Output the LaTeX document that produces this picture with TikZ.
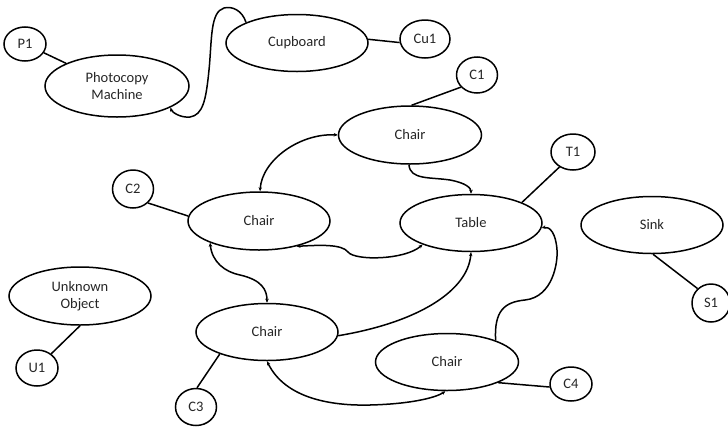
\documentclass[tikz,border=0pt]{standalone}
\usepackage{fontspec}
\setmainfont{Carlito}
\usetikzlibrary{shapes.geometric,arrows.meta}
\begin{document}
\begin{tikzpicture}[x=1pt,y=-1pt,
  obj/.style={draw, ellipse, line width=1.5pt, inner sep=0pt, align=center,
    font=\fontsize{14.5}{17}\selectfont, text=black!85},
  link/.style={line width=1.5pt},
  tip/.style={line width=1.5pt, -{Stealth[length=4pt,width=3.5pt]}},
  both/.style={line width=1.5pt, {Stealth[length=4pt,width=3.5pt]}-{Stealth[length=4pt,width=3.5pt]}}]
\useasboundingbox (0,0) rectangle (728,426);

% objects
\node[obj, minimum width=144pt, minimum height=62pt] (pm) at (117,86) {Photocopy\\Machine};
\node[obj, minimum width=142pt, minimum height=57pt] (cb) at (297,43) {Cupboard};
\node[obj, minimum width=143pt, minimum height=58pt] (ct) at (410,135) {Chair};
\node[obj, minimum width=142pt, minimum height=57pt] (tb) at (471,223) {Table};
\node[obj, minimum width=142pt, minimum height=58pt] (cm) at (259,221) {Chair};
\node[obj, minimum width=142pt, minimum height=57pt] (sk) at (652,225) {Sink};
\node[obj, minimum width=142pt, minimum height=58pt] (uo) at (80,296) {Unknown\\Object};
\node[obj, minimum width=142pt, minimum height=57pt] (cl) at (267,332) {Chair};
\node[obj, minimum width=143pt, minimum height=57pt] (cr) at (447,362) {Chair};

% labels
\node[obj, minimum width=42pt, minimum height=34pt] (p1) at (25,44) {P1};
\node[obj, minimum width=50pt, minimum height=38pt] (cu1) at (425,39) {Cu1};
\node[obj, minimum width=41pt, minimum height=36pt] (c1) at (477,75) {C1};
\node[obj, minimum width=44pt, minimum height=36pt] (t1) at (573,152) {T1};
\node[obj, minimum width=41pt, minimum height=38pt] (c2) at (133,189) {C2};
\node[obj, minimum width=38pt, minimum height=38pt] (s1) at (711,303) {S1};
\node[obj, minimum width=42pt, minimum height=36pt] (u1) at (37,368) {U1};
\node[obj, minimum width=41pt, minimum height=37pt] (c3) at (196,407) {C3};
\node[obj, minimum width=42pt, minimum height=34pt] (c4) at (571,384) {C4};

% label links
\draw[link] (p1.-25) -- (pm.156);
\draw[link] (cb.3) -- (cu1.188);
\draw[link] (c1.217) -- (ct.87);
\draw[link] (t1.228) -- (tb.22);
\draw[link] (c2.-43) -- (cm.176);
\draw[link] (sk.-88) -- (s1.133);
\draw[link] (uo.-90) -- (u1.45);
\draw[link] (cl.205) -- (c3.87);
\draw[link] (cr.-22) -- (c4.188);

% relations
\draw[tip] (cb.158) .. controls (242,10) and (232,6) .. (224,8)
  .. controls (210,12) and (212,40) .. (209,70)
  .. controls (206,100) and (203,115) .. (190,117)
  .. controls (180,118) and (172,112) .. (pm.-22);
\draw[both] (ct.west) .. controls (300,133) and (262,160) .. (cm.88);
\draw[tip] (ct.-92) .. controls (410,180) and (430,177) .. (450,180)
  .. controls (466,183) and (471,188) .. (tb.90);
\draw[both] (cm.-34) .. controls (320,245) and (342,244) .. (348,252)
  .. controls (355,261) and (405,260) .. (tb.204);
\draw[both] (cm.204) .. controls (212,262) and (225,272) .. (240,275)
  .. controls (262,280) and (267,290) .. (cl.90);
\draw[tip] (cl.-3) .. controls (420,322) and (468,290) .. (tb.-90);
\draw[tip] (cr.24) .. controls (494,310) and (505,302) .. (525,300)
  .. controls (553,297) and (558,262) .. (557,250)
  .. controls (556,234) and (550,226) .. (tb.-4);
\draw[both] (cl.-90) .. controls (285,398) and (330,406) .. (370,405)
  .. controls (410,404) and (435,398) .. (cr.-93);
\end{tikzpicture}
\end{document}
